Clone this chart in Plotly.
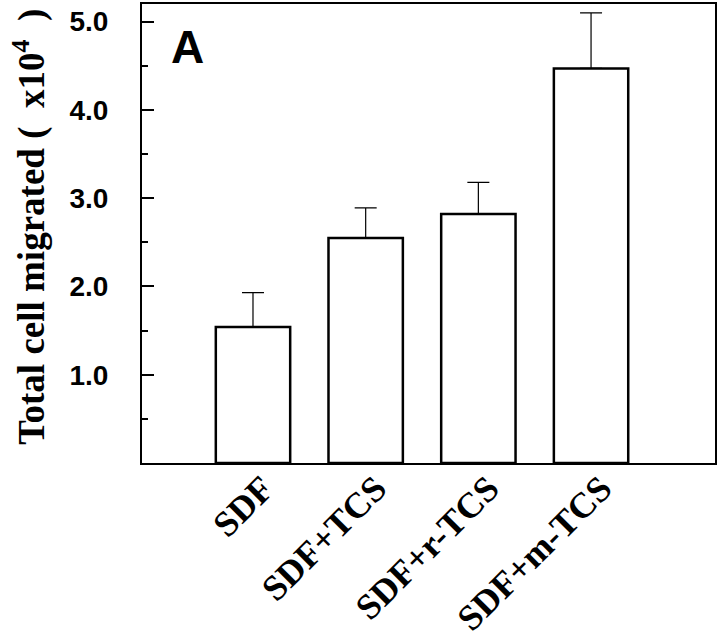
import plotly.graph_objects as go

categories = ["SDF", "SDF+TCS", "SDF+r-TCS", "SDF+m-TCS"]
values = [1.54, 2.55, 2.82, 4.47]
errors = [0.39, 0.34, 0.36, 0.63]
ytick_vals = [1, 2, 3, 4, 5]
ytick_text = ["1.0", "2.0", "3.0", "4.0", "5.0"]
minor_vals = [0.5, 1.5, 2.5, 3.5, 4.5]

xpos = list(range(len(categories)))
label_offset = 0.09  # small shift of rotated labels to the right

fig = go.Figure()
fig.add_trace(go.Bar(
    x=xpos,
    y=values,
    width=0.66,
    marker=dict(color="white", line=dict(color="black", width=2.5)),
    error_y=dict(type="data", symmetric=False, array=errors,
                 arrayminus=[0] * len(errors),
                 color="black", thickness=1.2, width=11),
))

fig.update_layout(
    width=720, height=642,
    margin=dict(l=142, r=5, t=4, b=179),
    paper_bgcolor="white", plot_bgcolor="white",
    showlegend=False,
    xaxis=dict(
        range=[-0.985, 4.10],
        tickvals=[p + label_offset for p in xpos],
        ticktext=categories,
        tickangle=-45,
        ticks="",
        automargin=False,
        showgrid=False, zeroline=False,
        showline=True, linecolor="black", linewidth=2, mirror=True,
        tickfont=dict(family="Liberation Serif", size=36, color="black", weight="bold"),
        ticklabelstandoff=-12,
    ),
    yaxis=dict(
        range=[0, 5.2],
        tickvals=ytick_vals,
        ticktext=ytick_text,
        ticks="inside", ticklen=12, tickwidth=2, tickcolor="black",
        minor=dict(tickvals=minor_vals, ticks="inside", ticklen=6,
                   tickwidth=1.5, tickcolor="black", showgrid=False),
        automargin=False,
        showgrid=False, zeroline=False,
        showline=True, linecolor="black", linewidth=2, mirror=True,
        tickfont=dict(family="Liberation Sans", size=28, color="black", weight="bold"),
        ticklabelstandoff=26,
    ),
    annotations=[
        dict(text="A", xref="paper", yref="paper", x=0.08, y=0.907,
             xanchor="center", yanchor="middle", showarrow=False,
             font=dict(family="Liberation Sans", size=46, color="black", weight="bold")),
        dict(text="Total cell migrated\u00a0(\u00a0\u00a0x10<sup>4</sup>\u00a0\u00a0)",
             xref="paper", yref="paper", x=-0.197, y=0.515,
             xanchor="center", yanchor="middle", textangle=-90, showarrow=False,
             font=dict(family="Liberation Serif", size=37, color="black", weight="bold")),
    ],
)

fig.write_html("out.html", config={"displayModeBar": False},
               post_script="document.body.style.margin='0';")
